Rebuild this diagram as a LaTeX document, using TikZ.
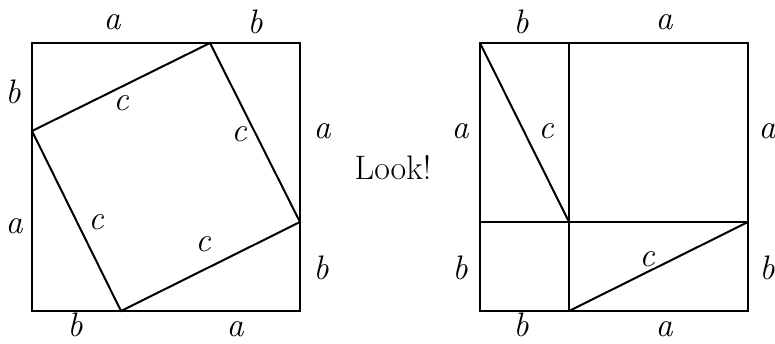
\documentclass[tikz,border=0pt]{standalone}
\usepackage{fontspec}
\usepackage{tikz}
\tikzset{
  % --- LINES ---
  edge-line/.style={
    draw=black,
    line width=1pt,
    line join=miter
  },
  % --- LABELS ---
  side-label/.style={
    font=\fontsize{17}{20}\selectfont\itshape,
    inner sep=0pt
  },
  look-label/.style={
    font=\fontsize{17}{20}\selectfont,
    inner sep=0pt
  },
}
\begin{document}
\begin{tikzpicture}[x=0.5pt, y=0.5pt]
  \useasboundingbox (0,0) rectangle (775,343);
  % --- left square: corners
  \coordinate (ll) at (32,32);
  \coordinate (lr) at (300,32);
  \coordinate (ur) at (300,300);
  \coordinate (ul) at (32,300);
  % --- left square: tilted square corners
  \coordinate (tq-top)    at (210,300);
  \coordinate (tq-right)  at (300,121);
  \coordinate (tq-bottom) at (121,32);
  \coordinate (tq-left)   at (32,212);
  \draw[edge-line] (ll) -- (lr) -- (ur) -- (ul) -- cycle;
  \draw[edge-line] (tq-top) -- (tq-right) -- (tq-bottom) -- (tq-left) -- cycle;
  % --- left square: labels
  \node[side-label] (l-top-a)    at (112,321) {a};
  \node[side-label] (l-top-b)    at (255,321) {b};
  \node[side-label] (l-left-b)   at (13,251)  {b};
  \node[side-label] (l-left-a)   at (14,117)  {a};
  \node[side-label] (l-right-a)  at (322,212) {a};
  \node[side-label] (l-right-b)  at (321,75)  {b};
  \node[side-label] (l-bot-b)    at (75,18)   {b};
  \node[side-label] (l-bot-a)    at (235,14)  {a};
  \node[side-label] (l-c1)       at (121,240) {c};
  \node[side-label] (l-c2)       at (239,209) {c};
  \node[side-label] (l-c3)       at (96,121)  {c};
  \node[side-label] (l-c4)       at (203,99)  {c};
  % --- middle
  \node[look-label] (look) at (393,175) {Look!};
  % --- right square: corners
  \coordinate (rll) at (480,32);
  \coordinate (rlr) at (748,32);
  \coordinate (rur) at (748,300);
  \coordinate (rul) at (480,300);
  % --- right square: split points
  \coordinate (split-top)    at (569,300);
  \coordinate (split-bottom) at (569,32);
  \coordinate (split-left)   at (480,121);
  \coordinate (split-right)  at (748,121);
  \coordinate (split-mid)    at (569,121);
  \draw[edge-line] (rll) -- (rlr) -- (rur) -- (rul) -- cycle;
  \draw[edge-line] (split-top) -- (split-bottom);
  \draw[edge-line] (split-left) -- (split-right);
  \draw[edge-line] (rul) -- (split-mid);
  \draw[edge-line] (split-bottom) -- (split-right);
  % --- right square: labels
  \node[side-label] (r-top-b)    at (521,321) {b};
  \node[side-label] (r-top-a)    at (664,321) {a};
  \node[side-label] (r-left-a)   at (460,212) {a};
  \node[side-label] (r-left-b)   at (460,75)  {b};
  \node[side-label] (r-right-a)  at (767,212) {a};
  \node[side-label] (r-right-b)  at (767,75)  {b};
  \node[side-label] (r-bot-b)    at (521,18)  {b};
  \node[side-label] (r-bot-a)    at (664,14)  {a};
  \node[side-label] (r-c1)       at (546,212) {c};
  \node[side-label] (r-c2)       at (647,84)  {c};
\end{tikzpicture}
\end{document}
